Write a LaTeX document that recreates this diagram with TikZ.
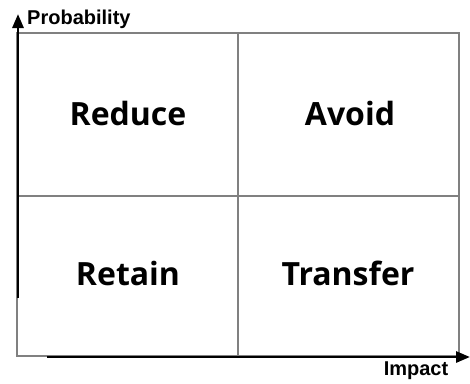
\documentclass[tikz,border=0pt]{standalone}
\usepackage{fontspec}
\setmainfont{Open Sans}
\newfontfamily\axisfont{Liberation Sans}
\usetikzlibrary{arrows.meta,calc}

\tikzset{
  cell/.style={font=\bfseries\fontsize{32}{36}\selectfont, inner sep=0pt},
  axislabel/.style={font=\axisfont\bfseries\fontsize{20}{22}\selectfont, inner sep=0pt},
  gridline/.style={draw=black!50, line width=1.6pt},
  axisline/.style={line width=2.8pt, -{Triangle[length=14pt,width=11pt]}},
}

\begin{document}
\begin{tikzpicture}[x=1pt,y=-1pt]
\useasboundingbox (0,0) rectangle (470,383);
% the four squares
\coordinate (nw) at (17,33);
\coordinate (se) at (459,356);
\coordinate (midtop) at (238,33);
\coordinate (midbot) at (238,356);
\coordinate (midleft) at (17,196);
\coordinate (midright) at (459,196);
\draw[gridline] (nw) rectangle (se);
\draw[gridline] (midtop) -- (midbot);
\draw[gridline] (midleft) -- (midright);
\node[cell] (reduce) at (128,113) {Reduce};
\node[cell] (avoid) at (350,113) {Avoid};
\node[cell] (retain) at (128,273) {Retain};
\node[cell] (transfer) at (348,273) {Transfer};
% axes
\coordinate (yfoot) at (18,298);
\coordinate (ytip) at (18,14);
\draw[axisline] (yfoot) -- (ytip);
\coordinate (xfoot) at (47,357);
\coordinate (xtip) at (470,357);
\draw[axisline] (xfoot) -- (xtip);
\node[axislabel, anchor=west] (prob) at (27,19) {Probability};
\node[axislabel] (impact) at (416,371) {Impact};
\end{tikzpicture}
\end{document}
